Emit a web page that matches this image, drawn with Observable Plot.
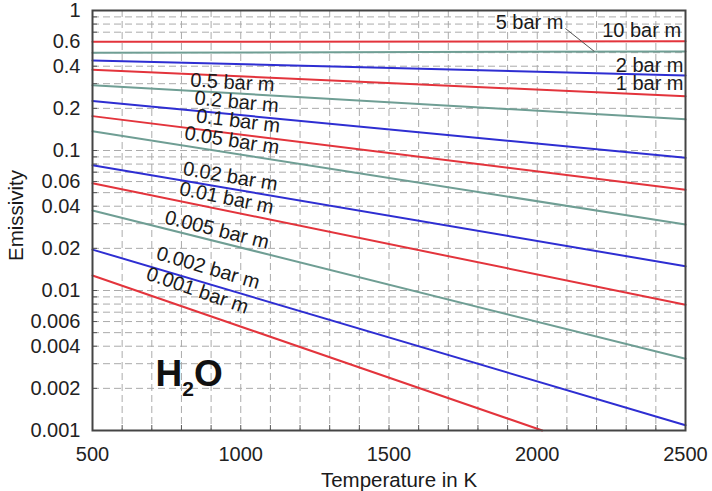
<!DOCTYPE html>
<html>
<head>
<meta charset="utf-8">
<script src="https://cdn.jsdelivr.net/npm/d3@7"></script>
<script src="https://cdn.jsdelivr.net/npm/@observablehq/plot@0.6"></script>
<style>
  html, body { margin: 0; padding: 0; background: #fff; }
  svg { display: block; }
</style>
</head>
<body>
<div id="chart"></div>
<script>
// ---- data ----
const startTemp = 500;
const pathLength = ["10", "5", "2", "1", "0.5", "0.2", "0.1", "0.05", "0.02", "0.01", "0.005", "0.002", "0.001"];
const epsAtStart = [0.597, 0.499, 0.44, 0.377, 0.293, 0.226, 0.176, 0.137, 0.0785, 0.0584, 0.0373, 0.0196, 0.0128];
const endTemp = [2500, 2500, 2500, 2500, 2500, 2500, 2500, 2500, 2500, 2500, 2500, 2500, 2017];
const epsAtEnd = [0.603, 0.51, 0.343, 0.244, 0.167, 0.0887, 0.0524, 0.0296, 0.0149, 0.0079, 0.00325, 0.00109, 0.001];
// label anchor points (data units)
const labelTemp = [2352, 1974, 2379, 2379, 972, 986, 991, 970, 965, 952, 920, 890, 854];
const labelEps = [0.72, 0.814, 0.405, 0.2985, 0.306, 0.222, 0.1625, 0.118, 0.0652, 0.0458, 0.0271, 0.0145, 0.01];
// leader for "5 bar m"
const leaderTemp = [2095, 2193];
const leaderEps = [0.744, 0.509];
const xTickLabels = [500, 1000, 1500, 2000, 2500];
const yTickLabels = [1, 0.6, 0.4, 0.2, 0.1, 0.06, 0.04, 0.02, 0.01, 0.006, 0.004, 0.002, 0.001];
const formula = "H2O";
const xTitle = "Temperature in K";
const yTitle = "Emissivity";

// ---- layout ----
const W = 712, H = 491;
const mL = 92, mR = 27, mT = 10, mB = 61;
const innerW = W - mL - mR, innerH = H - mT - mB;
const xDomain = [500, 2500], yDomain = [0.001, 1];
const pxPerDecade = innerH / (Math.log10(yDomain[1]) - Math.log10(yDomain[0]));
const pxPerK = innerW / (xDomain[1] - xDomain[0]);
const palette = ["#e3343c", "#6f9e94", "#2e2ed2"];
const font = "'Liberation Sans', Arial, Helvetica, sans-serif";

const lineRows = [];
pathLength.forEach((p, i) => {
  lineRows.push({i, T: startTemp, eps: epsAtStart[i]});
  lineRows.push({i, T: endTemp[i], eps: epsAtEnd[i]});
});

const labelRows = pathLength.map((p, i) => {
  const dyPx = (Math.log10(epsAtStart[i]) - Math.log10(epsAtEnd[i])) * pxPerDecade;
  const dxPx = (endTemp[i] - startTemp) * pxPerK;
  const ang = i < 4 ? 0 : Math.atan2(dyPx, dxPx) * 180 / Math.PI;
  return {text: `${p} bar m`, T: labelTemp[i], eps: labelEps[i], rotate: ang};
});

const minorX = d3.range(600, 2500, 100);
const minorY = [];
[0.001, 0.01, 0.1].forEach(d => { for (let k = 2; k <= 9; k++) minorY.push(+(d * k).toPrecision(3)); });
const gridYVals = minorY.concat([0.01, 0.1]);

const chart = Plot.plot({
  width: W, height: H,
  marginLeft: mL, marginRight: mR, marginTop: mT, marginBottom: mB,
  style: {fontFamily: font, fontSize: "20px", color: "#222", background: "#fff"},
  x: {domain: xDomain, axis: null},
  y: {type: "log", domain: yDomain, axis: null},
  color: {type: "identity"},
  marks: [
    Plot.gridX({ticks: minorX, stroke: "#ababab", strokeOpacity: 1, strokeDasharray: "7,4"}),
    Plot.gridY({ticks: gridYVals, stroke: "#ababab", strokeOpacity: 1, strokeDasharray: "7,4"}),
    Plot.tickX(minorX, {x: d => d, insetTop: innerH - 5, stroke: "#555"}),
    Plot.tickY(gridYVals, {y: d => d, insetRight: innerW - 5, stroke: "#555"}),
    Plot.line(lineRows, {x: "T", y: "eps", z: "i", stroke: d => palette[d.i % 3], strokeWidth: 2}),
    Plot.link([0], {x1: () => leaderTemp[0], y1: () => leaderEps[0], x2: () => leaderTemp[1], y2: () => leaderEps[1], stroke: "#555", strokeWidth: 1}),
    Plot.text(labelRows, {x: "T", y: "eps", text: "text", rotate: "rotate", fontSize: 20, fill: "#1a1a1a"}),
    Plot.text([formula], {frameAnchor: "bottom-left", dx: 63, dy: -45, textAnchor: "start", lineAnchor: "bottom", fontSize: 37, fontWeight: "bold", fill: "#111"}),
    Plot.text([yTitle], {frameAnchor: "left", dx: -76, dy: -5, rotate: -90, textAnchor: "middle", lineAnchor: "middle", fontSize: 20.5, fill: "#1a1a1a"}),
    Plot.text([xTitle], {frameAnchor: "bottom", dx: 10, dy: 56, textAnchor: "middle", lineAnchor: "bottom", fontSize: 20.5, fill: "#1a1a1a"}),
    Plot.text(yTickLabels, {y: d => d, text: d => String(d), frameAnchor: "left", dx: -12, textAnchor: "end", lineAnchor: "middle", fontSize: 20, fill: "#222"}),
    Plot.text(xTickLabels, {x: d => d, text: d => String(d), frameAnchor: "bottom", dy: 16, textAnchor: "middle", lineAnchor: "top", fontSize: 20, fill: "#222"}),
    Plot.frame({stroke: "#444", strokeWidth: 2})
  ]
});

// subscript for the formula
d3.select(chart).selectAll("text").each(function() {
  if (this.textContent === formula) {
    const t = d3.select(this);
    t.text(null);
    t.append("tspan").text("H");
    t.append("tspan").attr("dy", 10).attr("font-size", 21).text("2");
    t.append("tspan").attr("dy", -10).text("O");
  }
});

document.getElementById("chart").appendChild(chart);
</script>
</body>
</html>
